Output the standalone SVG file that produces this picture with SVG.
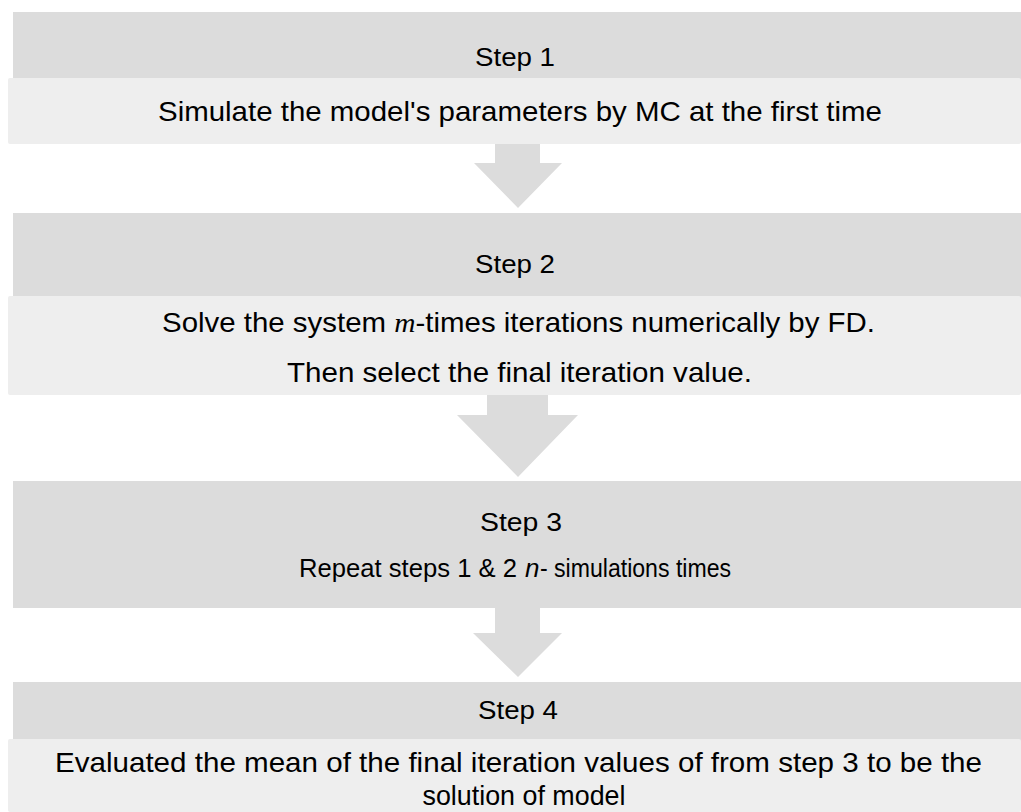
<svg xmlns="http://www.w3.org/2000/svg" width="1021" height="812" viewBox="0 0 1021 812">
<style>
.dark{fill:#dcdcdc}
.light{fill:#eeeeee}
.arrow{fill:#dcdcdc}
text{font-family:"Liberation Sans",Arial,sans-serif;fill:#000;text-anchor:middle}
.title{font-size:25px}
.body{font-size:28px}
.mid{font-size:26px}
.st{text-anchor:start}
.m{font-family:"Liberation Serif","DejaVu Serif",serif;font-style:italic}
</style>
<rect width="1021" height="812" fill="#ffffff"/>
<g id="connectors">
<path class="arrow" d="M495,143 H540 V163 H562 L518,208 L474,163 H495 Z"/>
<path class="arrow" d="M487,395 H548 V415 H578 L518,477 L457,415 H487 Z"/>
<path class="arrow" d="M495,608 H540 V633 H562 L518,677 L473,633 H495 Z"/>
</g>
<g id="step1">
<rect class="dark" x="13" y="12" width="1008" height="100"/>
<rect class="light" x="8" y="78" width="1013" height="66" rx="2"/>
<text class="title" x="515" y="66" textLength="80" lengthAdjust="spacingAndGlyphs">Step 1</text>
<text class="body" x="520" y="121" textLength="724" lengthAdjust="spacingAndGlyphs">Simulate the model's parameters by MC at the first time</text>
</g>
<g id="step2">
<rect class="dark" x="13" y="213" width="1008" height="170"/>
<rect class="light" x="8" y="296" width="1013" height="99" rx="2"/>
<text class="title" x="515" y="273" textLength="80" lengthAdjust="spacingAndGlyphs">Step 2</text>
<text class="body" x="518.5" y="332" textLength="713" lengthAdjust="spacingAndGlyphs">Solve the system <tspan class="m">m</tspan>-times iterations numerically by FD.</text>
<text class="body" x="519.5" y="382" textLength="465" lengthAdjust="spacingAndGlyphs">Then select the final iteration value.</text>
</g>
<g id="step3">
<rect class="dark" x="13" y="481" width="1008" height="127"/>
<text class="title" x="521" y="531" textLength="82" lengthAdjust="spacingAndGlyphs">Step 3</text>
<text class="mid st" x="299" y="577" textLength="218" lengthAdjust="spacingAndGlyphs">Repeat steps 1 &amp; 2</text>
<text class="mid st" x="525" y="577" font-style="italic">n</text>
<text class="mid st" x="540" y="577" textLength="191" lengthAdjust="spacingAndGlyphs">- simulations times</text>
</g>
<g id="step4">
<rect class="dark" x="13" y="682" width="1008" height="100"/>
<rect class="light" x="8" y="739" width="1013" height="73" rx="2"/>
<text class="title" x="518" y="719" textLength="80" lengthAdjust="spacingAndGlyphs">Step 4</text>
<text class="body" x="518.5" y="772" textLength="927" lengthAdjust="spacingAndGlyphs">Evaluated the mean of the final iteration values of from step 3 to be the</text>
<text class="body" x="524" y="805" textLength="203" lengthAdjust="spacingAndGlyphs">solution of model</text>
</g>
</svg>
